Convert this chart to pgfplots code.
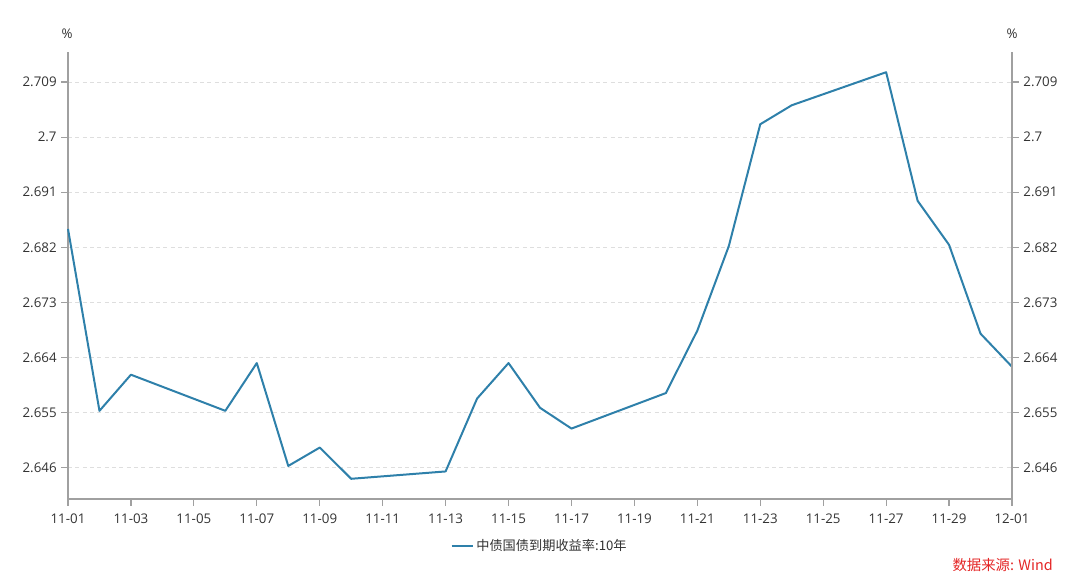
\documentclass[border=0pt]{standalone}
\usepackage{fontspec}
\setmainfont{Open Sans}
\newfontfamily\cjk{Noto Sans CJK SC}
\usepackage{pgfplots}
\usepackage{pgfplotstable}
\pgfplotsset{compat=1.18}
\definecolor{lineblue}{RGB}{46,128,170}
\definecolor{axgray}{RGB}{160,160,160}
\definecolor{gridgray}{RGB}{222,222,222}
\definecolor{txt}{RGB}{51,51,51}
\definecolor{srcred}{RGB}{228,38,38}

\pgfplotstableread{
x y
0 2.6850
1 2.6553
2 2.6612
5 2.6553
6 2.6631
7 2.6463
8 2.6493
9 2.6442
12 2.6454
13 2.6573
14 2.6631
15 2.6558
16 2.6524
19 2.6582
20 2.6684
21 2.6822
22 2.7021
23 2.7052
26 2.7106
27 2.6896
28 2.6824
29 2.6679
30 2.6625
}\yielddata

\pgfplotsset{common/.style={
  at={(51pt,63.75pt)}, anchor=south west, scale only axis,
  width=708pt, height=335.25pt,
  xmin=0, xmax=30, ymin=2.6409, ymax=2.7139,
  ytick={2.646,2.655,2.664,2.673,2.682,2.691,2.700,2.709},
  yticklabels={2.646,2.655,2.664,2.673,2.682,2.691,2.7,2.709},
  tick align=outside, major tick length=5pt,
  tick style={axgray, line width=0.9pt},
  axis line style={axgray, line width=0.9pt},
  ticklabel style={font=\fontsize{10}{12}\selectfont, text=txt},
  clip=false,
}}

\begin{document}
\begin{tikzpicture}[x=0.75pt,y=0.75pt]
\useasboundingbox (0,0) rectangle (1080,584);
\begin{axis}[common,
  axis x line*=bottom, axis y line*=left,
  xtick={0,2,...,30},
  xticklabels={11-01,11-03,11-05,11-07,11-09,11-11,11-13,11-15,11-17,11-19,11-21,11-23,11-25,11-27,11-29,12-01},
  xticklabel style={yshift=-2.5pt},
  ymajorgrids,
  grid style={gridgray, dash pattern=on 3pt off 2.5pt, line width=0.7pt},
  legend style={at={(0.5,-0.105)}, anchor=center, draw=none, fill=none,
    font=\cjk\fontsize{9.9}{11}\selectfont, text=txt},
]
\addplot[lineblue, line width=1.5pt, line join=round, mark=none,
  legend image code/.code={\draw[lineblue,line width=1.5pt](0pt,0pt)--(15.75pt,0pt);}]
  table[x=x,y=y]{\yielddata};
\addlegendentry{中债国债到期收益率:10年}
\end{axis}
\begin{axis}[common,
  axis x line=none, axis y line*=right,
]
\addplot[draw=none] coordinates {(0,2.65)};
\end{axis}
\node[font=\fontsize{10}{12}\selectfont, text=txt] at (67,550) {\%};
\node[font=\fontsize{10}{12}\selectfont, text=txt] at (1012,550) {\%};
\node[anchor=east, text=srcred, font=\cjk\fontsize{10.8}{12}\selectfont, inner sep=0pt] at (1053,19) {数据来源: Wind};
\end{tikzpicture}
\end{document}
